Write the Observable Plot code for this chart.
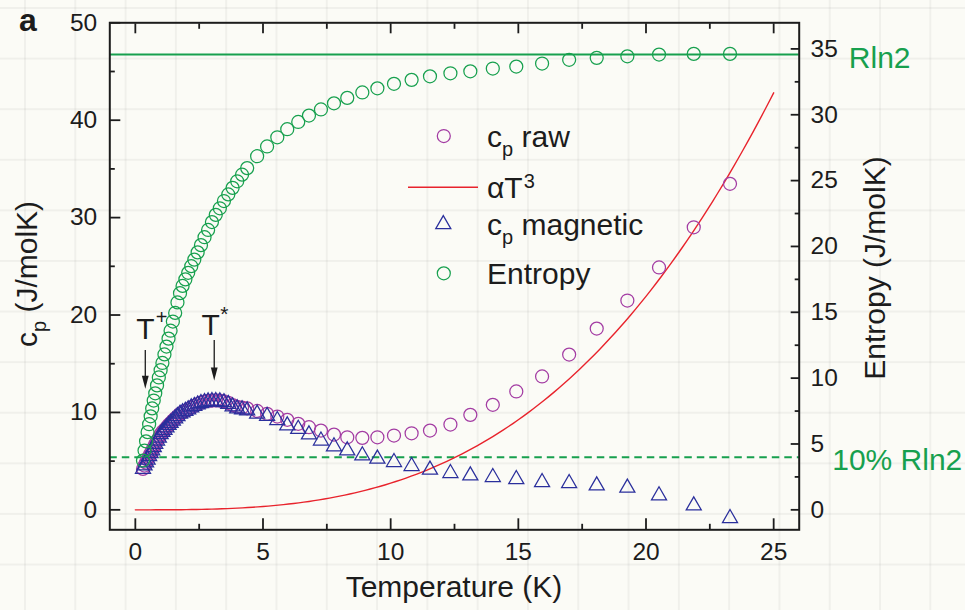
<!DOCTYPE html>
<html>
<head>
<meta charset="utf-8">
<script src="https://cdn.jsdelivr.net/npm/d3@7"></script>
<script src="https://cdn.jsdelivr.net/npm/@observablehq/plot@0.6"></script>
<style>
  html, body { margin: 0; padding: 0; }
  body {
    width: 965px; height: 610px; overflow: hidden;
    background-color: #fbfbf6;
    background-image:
      linear-gradient(to right, rgba(0,0,0,0.045) 2px, transparent 2px),
      linear-gradient(to bottom, rgba(0,0,0,0.045) 2px, transparent 2px);
    background-size: 50.3px 50.6px;
    background-position: 24px 7px;
  }
  #chart svg { display: block; }
</style>
</head>
<body>
<div id="chart"></div>
<script>
// Specific heat and magnetic entropy versus temperature
const temperature = [
  0.30, 0.36, 0.42, 0.48, 0.54, 0.60, 0.66, 0.72, 0.78, 0.85,
  0.92, 0.99, 1.06, 1.14, 1.22, 1.30, 1.38, 1.47, 1.56, 1.65,
  1.75, 1.85, 1.96, 2.07, 2.19, 2.31, 2.44, 2.57, 2.71, 2.85,
  3.00, 3.15, 3.31, 3.47, 3.64, 3.81, 3.99, 4.18, 4.38, 4.77,
  5.16, 5.56, 5.95, 6.38, 6.80, 7.27, 7.78, 8.30, 8.89, 9.48,
  10.13, 10.82, 11.54, 12.34, 13.12, 14.00, 14.92, 15.93, 16.99, 18.07,
  19.27, 20.51, 21.87, 23.29
];
// c_p raw (J/molK)
const cpRaw = [
  4.20, 4.55, 4.85, 5.15, 5.50, 5.80, 6.10, 6.43, 6.75, 7.10,
  7.40, 7.75, 8.00, 8.21, 8.46, 8.71, 8.91, 9.16, 9.39, 9.61,
  9.86, 10.02, 10.17, 10.32, 10.53, 10.68, 10.84, 11.00, 11.10, 11.18,
  11.22, 11.24, 11.22, 11.14, 10.98, 10.75, 10.57, 10.50, 10.42, 10.15,
  9.86, 9.58, 9.24, 8.83, 8.48, 8.14, 7.73, 7.45, 7.39, 7.45,
  7.63, 7.86, 8.14, 8.76, 9.75, 10.78, 12.15, 13.69, 15.94, 18.61,
  21.49, 24.88, 29.01, 33.47
];
// c_p magnetic (J/molK)
const cpMagnetic = [
  4.20, 4.55, 4.85, 5.15, 5.50, 5.80, 6.10, 6.43, 6.75, 7.10,
  7.40, 7.75, 8.00, 8.20, 8.45, 8.70, 8.90, 9.15, 9.38, 9.60,
  9.85, 10.00, 10.15, 10.30, 10.50, 10.65, 10.80, 10.95, 11.05, 11.12,
  11.15, 11.15, 11.12, 11.03, 10.85, 10.60, 10.40, 10.30, 10.19, 9.86,
  9.62, 9.20, 8.65, 8.30, 7.73, 7.10, 6.50, 6.09, 5.58, 5.24,
  4.89, 4.48, 4.11, 3.76, 3.52, 3.35, 3.14, 2.83, 2.73, 2.49,
  2.26, 1.47, 0.44, -0.86
];
// Entropy (J/molK), right axis
const entropy = [
  3.74, 4.50, 5.20, 5.90, 6.50, 7.10, 7.70, 8.30, 8.85, 9.45,
  10.05, 10.60, 11.15, 11.80, 12.40, 13.00, 13.60, 14.30, 14.95, 15.75,
  16.45, 17.00, 17.50, 18.00, 18.50, 19.00, 19.55, 20.10, 20.70, 21.25,
  21.85, 22.40, 22.90, 23.45, 23.95, 24.45, 24.95, 25.45, 25.95, 26.85,
  27.59, 28.29, 28.90, 29.45, 29.94, 30.40, 30.87, 31.28, 31.69, 32.01,
  32.35, 32.65, 32.92, 33.15, 33.30, 33.51, 33.66, 33.89, 34.17, 34.32,
  34.44, 34.57, 34.62, 34.62
];

// Lattice term alpha*T^3 and entropy reference levels
const alpha = 0.00274;
const fitRange = [0, 25];
const rln2Level = 34.58;
const tenPercentLevel = 3.99;

// Transition temperatures marked with arrows
const transitions = [
  {name: "T", sup: "+", T: 0.39},
  {name: "T", sup: "*", T: 3.09}
];

// Axis ticks
const xMajor = [0, 5, 10, 15, 20, 25];
const xMinor = [2.5, 7.5, 12.5, 17.5, 22.5];
const yMajor = [0, 10, 20, 30, 40, 50];
const yMinor = [5, 15, 25, 35, 45];
const sMajor = [0, 5, 10, 15, 20, 25, 30, 35];
const sMinor = [2.5, 7.5, 12.5, 17.5, 22.5, 27.5, 32.5];

const legendEntries = [
  {kind: "circle", color: "purple", parts: [["c"], ["p", "sub"], [" raw"]]},
  {kind: "line", color: "red", parts: [["\u03b1T"], ["3", "sup"]]},
  {kind: "triangle", color: "blue", parts: [["c"], ["p", "sub"], [" magnetic"]]},
  {kind: "circle", color: "green", parts: [["Entropy"]]}
];

// ---- styling ----
const FONT = "'Liberation Sans', Arial, Helvetica, sans-serif";
const INK = "#1c1c1c";
const COLORS = {purple: "#a33ca3", blue: "#2a2f9c", green: "#17a04e", red: "#e8232c"};
const K = 1.352; // right (entropy) axis units -> left axis units
const CIRCLE_R = 6.5;
const TRI_R = 5.6;

const rows = temperature.map((T, i) => ({T, raw: cpRaw[i], mag: cpMagnetic[i], S: entropy[i]}));
const fitT = d3.range(fitRange[0], fitRange[1] + 1e-9, 0.2);

// arrow and label layout for each transition (in c_p units)
const arrowLayout = [
  {labelY: 17.56, top: 16.36, tip: 12.42, dx: 0, supDx: 10.5, supDy: -15, supSize: 20},
  {labelY: 17.90, top: 17.39, tip: 13.28, dx: -3.5, supDx: 6, supDy: -14, supSize: 21}
];
const arrowHead = {
  draw(ctx) { ctx.moveTo(0, 0); ctx.lineTo(-3.4, -13); ctx.lineTo(3.4, -13); ctx.closePath(); }
};

const transitionMarks = transitions.flatMap((t, i) => {
  const L = arrowLayout[i];
  return [
    Plot.ruleX([t], {x: "T", y1: () => L.top, y2: () => L.tip + 0.6, stroke: INK, strokeWidth: 1.3}),
    Plot.dot([t], {x: "T", y: () => L.tip, symbol: arrowHead, fill: INK, stroke: "none"}),
    Plot.text([t], {x: "T", y: () => L.labelY, text: "name", dx: L.dx, fontSize: 30,
      textAnchor: "middle", lineAnchor: "bottom", fill: INK}),
    Plot.text([t], {x: "T", y: () => L.labelY, text: "sup", dx: L.supDx, dy: L.supDy,
      fontSize: L.supSize, textAnchor: "start", lineAnchor: "bottom", fill: INK})
  ];
});

const levelLabels = [
  {label: "Rln2", v: rln2Level, dx: 49.6},
  {label: "10% Rln2", v: tenPercentLevel, dx: 33}
];

const chart = Plot.plot({
  width: 965,
  height: 610,
  marginLeft: 109.3,
  marginRight: 166.3,
  marginTop: 22.3,
  marginBottom: 80.7,
  x: {domain: [-1, 26]},
  y: {domain: [-2.05, 50]},
  style: {background: "transparent", fontFamily: FONT, color: INK, overflow: "visible"},
  marks: [
    // reference levels
    Plot.ruleY([rln2Level], {y: d => d * K, stroke: COLORS.green, strokeWidth: 2}),
    Plot.ruleY([tenPercentLevel], {y: d => d * K, stroke: COLORS.green, strokeWidth: 2, strokeDasharray: "7.5,5"}),
    // lattice contribution
    Plot.line(fitT, {x: d => d, y: d => alpha * d ** 3, stroke: COLORS.red, strokeWidth: 1.4}),
    // data
    Plot.dot(rows, {x: "T", y: "raw", r: CIRCLE_R, fill: "none", stroke: COLORS.purple, strokeWidth: 1.25}),
    Plot.dot(rows, {x: "T", y: "mag", symbol: "triangle", r: TRI_R, fill: "none", stroke: COLORS.blue, strokeWidth: 1.25}),
    Plot.dot(rows, {x: "T", y: d => d.S * K, r: CIRCLE_R, fill: "none", stroke: COLORS.green, strokeWidth: 1.25}),
    ...transitionMarks,
    // level labels to the right of the frame
    ...levelLabels.map(d => Plot.text([d], {frameAnchor: "right", y: e => e.v * K, text: "label",
      dx: d.dx, dy: 3.5, fontSize: 30, textAnchor: "start", lineAnchor: "middle", fill: COLORS.green})),
    // axes with inward ticks
    Plot.axisX(xMajor, {anchor: "bottom", tickSize: -11, tickPadding: 23.4, fontSize: 24.5, strokeWidth: 1.8, label: null}),
    Plot.axisX(xMinor, {anchor: "bottom", tickSize: -5.5, tickFormat: () => "", strokeWidth: 1.8, label: null}),
    Plot.axisX(xMajor, {anchor: "top", tickSize: -10, tickFormat: () => "", strokeWidth: 1.8, label: null}),
    Plot.axisX(xMinor, {anchor: "top", tickSize: -5.5, tickFormat: () => "", strokeWidth: 1.8, label: null}),
    Plot.axisY(yMajor, {anchor: "left", tickSize: -11, tickPadding: 23.6, fontSize: 24.5, strokeWidth: 1.8, label: null}),
    Plot.axisY(yMinor, {anchor: "left", tickSize: -5.5, tickFormat: () => "", strokeWidth: 1.8, label: null}),
    Plot.axisY(sMajor.map(s => s * K), {anchor: "right", tickSize: -9, tickPadding: 20.3, fontSize: 24.5,
      tickFormat: d => String(Math.round(d / K)), strokeWidth: 1.8, label: null}),
    Plot.axisY(sMinor.map(s => s * K), {anchor: "right", tickSize: -5, tickFormat: () => "", strokeWidth: 1.8, label: null}),
    Plot.frame({stroke: INK, strokeWidth: 2})
  ]
});

document.getElementById("chart").append(chart);

// ---- titles, panel letter and legend ----
const svg = d3.select(chart);

function richText(sel, parts, size) {
  let shift = 0;
  for (const [t, kind] of parts) {
    const target = kind === "sub" ? 9 : kind === "sup" ? -10.7 : 0;
    const span = sel.append("tspan").text(t)
      .attr("font-size", kind ? 20 : size)
      .attr("dy", target - shift);
    if (kind === "sup") span.attr("dx", 1);
    shift = target;
  }
}

const titles = svg.append("g").attr("font-family", FONT).attr("fill", INK).attr("font-size", 30);

titles.append("text").attr("x", 454).attr("y", 597).attr("text-anchor", "middle").text("Temperature (K)");

richText(titles.append("text").attr("text-anchor", "middle")
  .attr("transform", "translate(37,274) rotate(-90)"),
  [["c"], ["p", "sub"], [" (J/molK)"]], 30);

titles.append("text").attr("text-anchor", "middle")
  .attr("transform", "translate(885,268) rotate(-90)").text("Entropy (J/molK)");

titles.append("text").attr("x", 19).attr("y", 30.5).attr("text-anchor", "start")
  .attr("font-size", 32).attr("font-weight", "bold").text("a");

const legend = svg.append("g").attr("font-family", FONT).attr("fill", INK).attr("text-anchor", "start");
const legendRows = [
  {sy: 136, base: 146.7},
  {sy: 187.3, base: 198.3},
  {sy: 224.3, base: 235.3},
  {sy: 273.3, base: 284}
];
legendEntries.forEach((e, i) => {
  const r = legendRows[i];
  const c = COLORS[e.color];
  if (e.kind === "circle") {
    legend.append("circle").attr("cx", 443.8).attr("cy", r.sy).attr("r", CIRCLE_R)
      .attr("fill", "none").attr("stroke", c).attr("stroke-width", 1.25);
  } else if (e.kind === "triangle") {
    legend.append("path").attr("transform", `translate(443.3,${r.sy})`)
      .attr("d", d3.symbol(d3.symbolTriangle, Math.PI * TRI_R * TRI_R)())
      .attr("fill", "none").attr("stroke", c).attr("stroke-width", 1.25);
  } else {
    legend.append("line").attr("x1", 408).attr("x2", 478).attr("y1", r.sy).attr("y2", r.sy)
      .attr("stroke", c).attr("stroke-width", 1.4);
  }
  richText(legend.append("text").attr("x", 487).attr("y", r.base), e.parts, 30);
});
</script>
</body>
</html>
